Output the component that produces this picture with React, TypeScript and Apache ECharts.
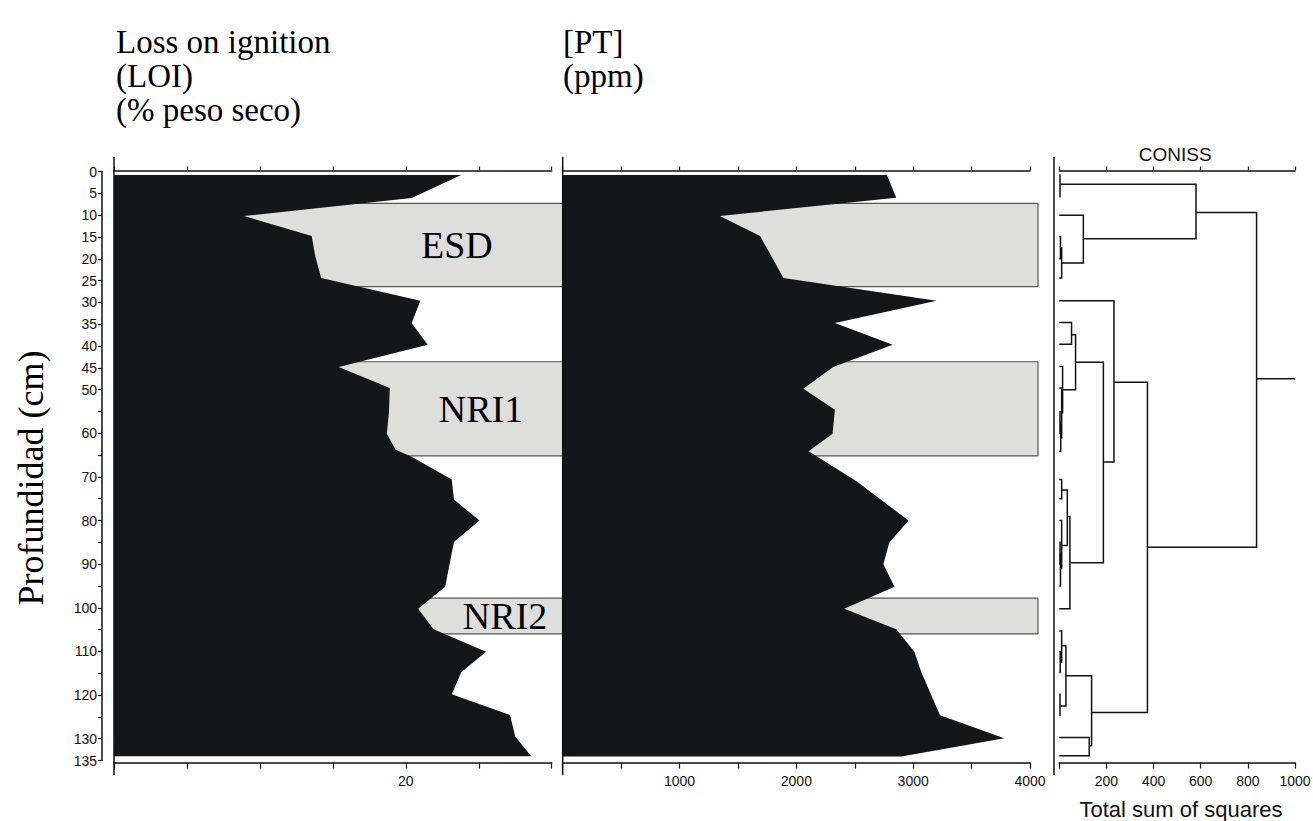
import React, { useEffect, useRef } from "react";
import * as echarts from "echarts";

// ---- data ----
const loiDepth = [0.8, 6.1, 10.2, 14.8, 19.5, 24.4, 29.6, 34.7, 39.7, 44.8, 49.6, 55, 60.1, 63.8, 65.4, 70.6, 75.2, 80, 84.9, 90, 95.2, 100.2, 104.9, 110.1, 114.8, 119.8, 124.6, 129.5, 134];
const loiValue = [23.8, 20.4, 8.9, 13.55, 13.8, 14.2, 21.0, 20.4, 21.5, 15.4, 18.9, 18.85, 18.7, 19.3, 20.4, 23.15, 23.3, 25.05, 23.3, 23.0, 22.7, 20.85, 21.9, 25.5, 23.8, 23.15, 27.15, 27.5, 28.6];

const ptDepth = [0.8, 6.0, 10.2, 14.8, 24.4, 29.6, 34.7, 39.7, 44.8, 49.8, 54.6, 60.1, 64.1, 71, 80, 85.1, 90, 95.2, 100.2, 104.9, 110.1, 114.8, 124.6, 129.9, 134.1];
const ptValue = [2775, 2855, 1345, 1690, 1890, 3200, 2330, 2825, 2315, 2060, 2330, 2310, 2105, 2515, 2960, 2795, 2745, 2840, 2410, 2855, 3010, 3070, 3230, 3780, 2900];

const bandName = ["ESD", "NRI1", "NRI2"];
const bandTop = [7.3, 43.6, 97.8];
const bandBottom = [26.4, 65.2, 106.0];
const bandLabelAt = [23.5, 25.15, 26.8];

// dendrogram (CONISS) nodes: height, top depth, top child height, bottom depth, bottom child height
const nodeHeight = [837, 580, 3, 102, 10, 5, 374, 232, 187, 69, 52, 14, 10, 6, 3, 45, 34, 10, 10, 5, 3, 137, 28, 10, 4, 3, 127];
const nodeTopDepth = [9.4, 2.9, 0.8, 10, 17.5, 14.9, 48.3, 29.6, 43.7, 37.4, 34.6, 44.7, 49.6, 57.5, 55, 79.1, 73, 70.6, 80, 87.5, 85, 115.6, 108.7, 105.3, 110.1, 119.8, 129.7];
const nodeTopChild = [580, 3, 0, 0, 5, 0, 232, 0, 69, 52, 0, 0, 0, 3, 0, 34, 10, 0, 0, 3, 0, 28, 10, 0, 0, 0, 0];
const nodeBottomDepth = [86.1, 15.4, 5.8, 21, 24.4, 20, 124, 66.6, 89.7, 50, 39.6, 55.3, 61, 64.1, 60, 100.2, 85.7, 75, 91, 95, 90, 131.6, 122.5, 112.5, 114.8, 124.6, 133.9];
const nodeBottomChild = [374, 102, 0, 10, 0, 0, 137, 187, 45, 14, 0, 10, 6, 0, 0, 0, 10, 0, 5, 0, 0, 127, 3, 4, 0, 0, 0];
const rootLine = [837, 1000, 47.5];

const depthMin = 0;
const depthMax = 135;

// ---- layout ----
const TOP = 171.5;
const H = 589;
const G1 = { left: 114, width: 437.7 };
const G2 = { left: 562.7, width: 467.3 };
const G3 = { left: 1059.3, width: 235.7 };
const INK = "#111";
const SERIF = "'Liberation Serif', 'Times New Roman', serif";
const SANS = "'Liberation Sans', Arial, sans-serif";

function depthFmt(v: number) {
  return v <= 50 || v % 10 === 0 || v === 135 ? String(v) : "";
}

function xAxisPair(gridIndex: number, max: number, interval: number, fmt: (v: number) => string) {
  const common = {
    type: "value",
    gridIndex,
    min: 0,
    max,
    interval,
    splitLine: { show: false },
    axisLine: { show: true, onZero: false, lineStyle: { color: INK, width: 1.5 } },
  };
  return [
    {
      ...common,
      position: "bottom",
      offset: 2,
      axisTick: { show: true, length: 6, lineStyle: { color: INK, width: 1.2 } },
      axisLabel: { show: true, formatter: fmt, margin: 11, fontSize: 14, fontFamily: SANS, color: INK },
    },
    {
      ...common,
      position: "top",
      offset: 1,
      axisTick: { show: true, length: 4, lineStyle: { color: INK, width: 1.2 } },
      axisLabel: { show: false },
    },
  ];
}

function yAxis(gridIndex: number, visible: boolean) {
  return {
    type: "value",
    gridIndex,
    min: depthMin,
    max: depthMax,
    interval: 5,
    inverse: true,
    show: visible,
    offset: 12,
    splitLine: { show: false },
    axisLine: { show: true, onZero: false, lineStyle: { color: INK, width: 1.5 } },
    axisTick: { show: true, length: 4, lineStyle: { color: INK, width: 1.2 } },
    axisLabel: { formatter: depthFmt, margin: 5, fontSize: 14, fontFamily: SANS, color: INK },
  };
}

function profileSeries(xAxisIndex: number, yAxisIndex: number, depths: number[], values: number[]) {
  return {
    type: "custom",
    coordinateSystem: "cartesian2d",
    xAxisIndex,
    yAxisIndex,
    clip: false,
    z: 5,
    data: [[0, 0]],
    renderItem: (_params: any, api: any) => {
      const pts: number[][] = [];
      pts.push(api.coord([0, depths[0]]));
      for (let i = 0; i < depths.length; i++) pts.push(api.coord([values[i], depths[i]]));
      pts.push(api.coord([0, depths[depths.length - 1]]));
      return { type: "polygon", shape: { points: pts }, style: { fill: "#151618", stroke: null } };
    },
  };
}

function bandSeries(xAxisIndex: number, yAxisIndex: number, extraRight: number, withRightEdge: boolean, withLabels: boolean) {
  return {
    type: "custom",
    coordinateSystem: "cartesian2d",
    xAxisIndex,
    yAxisIndex,
    clip: false,
    z: 2,
    data: bandName.map((_, i) => [0, bandTop[i], bandBottom[i]]),
    renderItem: (params: any, api: any) => {
      const i = params.dataIndex;
      const cs = params.coordSys;
      const y0 = api.coord([0, bandTop[i]])[1];
      const y1 = api.coord([0, bandBottom[i]])[1];
      const x0 = cs.x;
      const x1 = cs.x + cs.width + extraRight;
      const edge = { stroke: "#555", lineWidth: 1.2 };
      const children: any[] = [
        { type: "rect", shape: { x: x0, y: y0, width: x1 - x0, height: y1 - y0 }, style: { fill: "#dededd", stroke: null } },
        { type: "line", shape: { x1: x0, y1: y0, x2: x1, y2: y0 }, style: edge },
        { type: "line", shape: { x1: x0, y1: y1, x2: x1, y2: y1 }, style: edge },
      ];
      if (withRightEdge) children.push({ type: "line", shape: { x1: x1, y1: y0, x2: x1, y2: y1 }, style: edge });
      if (withLabels) {
        const c = api.coord([bandLabelAt[i], (bandTop[i] + bandBottom[i]) / 2]);
        children.push({
          type: "text",
          x: c[0],
          y: c[1],
          style: { text: bandName[i], fontFamily: SERIF, fontSize: 38, fill: "#000", align: "center", verticalAlign: "middle" },
        });
      }
      return { type: "group", children };
    },
  };
}

export default function App() {
  const ref = useRef<HTMLDivElement>(null);
  useEffect(() => {
    if (!ref.current) return;
    const chart = echarts.init(ref.current, null, { renderer: "svg" });
    const [x0, x1] = xAxisPair(0, 30, 5, (v) => (v === 20 ? "20" : ""));
    const [x2, x3] = xAxisPair(1, 4000, 500, (v) => (v > 0 && v % 1000 === 0 ? String(v) : ""));
    const [x4, x5] = xAxisPair(2, 1000, 200, (v) => (v > 0 ? String(v) : ""));
    const frameY0 = 157;
    const frameY1 = 775;
    const frameLine = (x: number) => ({
      type: "line",
      shape: { x1: x, y1: frameY0, x2: x, y2: frameY1 },
      style: { stroke: INK, lineWidth: 1.5 },
      z: 10,
    });
    const title = (text: string, x: number, y: number) => ({
      type: "text",
      x,
      y,
      style: { text, fontFamily: SERIF, fontSize: 33, fill: "#000", align: "left", verticalAlign: "middle" },
    });
    const option: any = {
      animation: false,
      backgroundColor: "#fff",
      grid: [
        { left: G1.left, top: TOP, width: G1.width, height: H, containLabel: false, outerBoundsMode: "none" },
        { left: G2.left, top: TOP, width: G2.width, height: H, containLabel: false, outerBoundsMode: "none" },
        { left: G3.left, top: TOP, width: G3.width, height: H, containLabel: false, outerBoundsMode: "none" },
      ],
      xAxis: [x0, x1, x2, x3, x4, x5],
      yAxis: [yAxis(0, true), yAxis(1, false), yAxis(2, false)],
      series: [
        bandSeries(0, 0, 11, false, true),
        bandSeries(2, 1, 8, true, false),
        profileSeries(0, 0, loiDepth, loiValue),
        profileSeries(2, 1, ptDepth, ptValue),
        {
          type: "custom",
          coordinateSystem: "cartesian2d",
          xAxisIndex: 4,
          yAxisIndex: 2,
          clip: false,
          z: 5,
          data: nodeHeight.map((h, i) => [h, nodeTopDepth[i], nodeTopChild[i], nodeBottomDepth[i], nodeBottomChild[i]]),
          renderItem: (params: any, api: any) => {
            const i = params.dataIndex;
            const pts = [
              api.coord([nodeTopChild[i], nodeTopDepth[i]]),
              api.coord([nodeHeight[i], nodeTopDepth[i]]),
              api.coord([nodeHeight[i], nodeBottomDepth[i]]),
              api.coord([nodeBottomChild[i], nodeBottomDepth[i]]),
            ];
            return { type: "polyline", shape: { points: pts }, style: { stroke: INK, lineWidth: 1.5, fill: null } };
          },
        },
        {
          type: "custom",
          coordinateSystem: "cartesian2d",
          xAxisIndex: 4,
          yAxisIndex: 2,
          clip: false,
          z: 5,
          data: [rootLine],
          renderItem: (_params: any, api: any) => {
            const a = api.coord([rootLine[0], rootLine[2]]);
            const b = api.coord([rootLine[1], rootLine[2]]);
            return { type: "line", shape: { x1: a[0], y1: a[1], x2: b[0], y2: b[1] }, style: { stroke: INK, lineWidth: 1.5 } };
          },
        },
      ],
      graphic: [
        title("Loss on ignition", 116, 42),
        title("(LOI)", 116, 76),
        title("(% peso seco)", 116, 110),
        title("[PT]", 563, 42),
        title("(ppm)", 563, 76),
        {
          type: "text",
          x: 31,
          y: 478,
          rotation: Math.PI / 2,
          style: { text: "Profundidad (cm)", fontFamily: SERIF, fontSize: 36, fill: "#000", align: "center", verticalAlign: "middle" },
        },
        {
          type: "text",
          x: G3.left + G3.width / 2 - 2,
          y: 154,
          style: { text: "CONISS", fontFamily: SANS, fontSize: 19, fill: INK, align: "center", verticalAlign: "middle" },
        },
        {
          type: "text",
          x: 1181,
          y: 809,
          style: { text: "Total sum of squares", fontFamily: SANS, fontSize: 22, fill: INK, align: "center", verticalAlign: "middle" },
        },
        frameLine(G1.left),
        frameLine(G2.left),
        frameLine(1054),
      ],
    };
    chart.setOption(option);
    return () => chart.dispose();
  }, []);
  return <div ref={ref} style={{ position: "fixed", left: 0, top: 0, width: 1313, height: 821 }} />;
}
